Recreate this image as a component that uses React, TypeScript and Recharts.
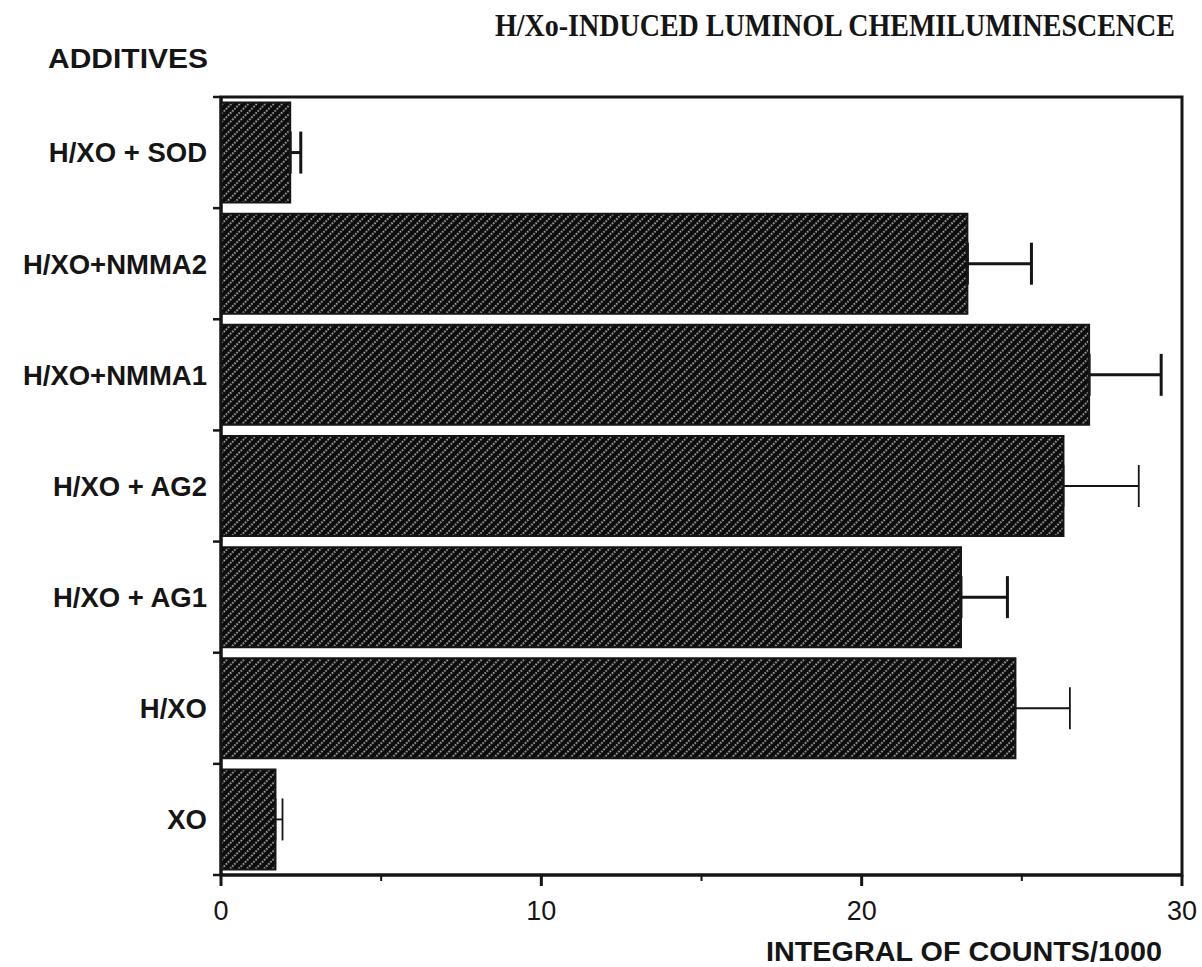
import { BarChart, Bar, XAxis, YAxis, ErrorBar, ReferenceArea } from 'recharts';

// categories top to bottom, as printed
const categories = ['H/XO + SOD', 'H/XO+NMMA2', 'H/XO+NMMA1', 'H/XO + AG2', 'H/XO + AG1', 'H/XO', 'XO'];
const means = [2.16, 23.3, 27.1, 26.3, 23.1, 24.8, 1.7];
const errors = [0.33, 2.0, 2.25, 2.35, 1.45, 1.7, 0.22];
// some error bars are printed with a heavier line than others
const heavyError = [true, true, true, false, true, false, false];
const xTicks = [0, 5, 10, 15, 20, 25, 30];

const data = categories.map((name, i) => ({
  name,
  value: means[i],
  errHeavy: heavyError[i] ? [0, errors[i]] : null,
  errLight: heavyError[i] ? null : [0, errors[i]],
}));

const INK = '#151515';
const SANS = '"Liberation Sans", Arial, Helvetica, sans-serif';
const LABEL_GAP = 14;

const XTick = ({ x, y, payload }: any) => {
  const major = payload.value % 10 === 0;
  return (
    <g>
      <line x1={x} x2={x} y1={y} y2={y + (major ? 11 : 6)} stroke={INK} strokeWidth={major ? 3 : 2} />
      {major && (
        <text x={x} y={y + 45} textAnchor="middle" fontFamily={SANS} fontSize={27} fill={INK}>
          {payload.value}
        </text>
      )}
    </g>
  );
};

// category label, plus small outward ticks on the band edges (payload.offset = half band)
const CatTick = ({ x, y, payload, index, visibleTicksCount }: any) => {
  const ax = x + LABEL_GAP;
  const half = payload.offset || 0;
  return (
    <g>
      <line x1={ax - 8} x2={ax} y1={y - half} y2={y - half} stroke={INK} strokeWidth={2.5} />
      {index === visibleTicksCount - 1 && (
        <line x1={ax - 8} x2={ax} y1={y + half} y2={y + half} stroke={INK} strokeWidth={2.5} />
      )}
      <text x={x} y={y} dy="0.36em" textAnchor="end" fontFamily={SANS} fontSize={27.5} fontWeight="bold" fill={INK}>
        {payload.value}
      </text>
    </g>
  );
};

export default function App() {
  return (
    <div style={{ position: 'relative', width: 1202, height: 967, background: '#fff' }}>
      <style>{'body{margin:0;overflow:hidden;background:#fff}'}</style>
      <svg width={0} height={0} style={{ position: 'absolute' }}>
        <defs>
          <pattern id="hatch" width={6} height={6} patternUnits="userSpaceOnUse" patternTransform="rotate(45)">
            <rect width={6} height={6} fill="#0c0c0c" />
            <line x1={3} y1={0} x2={3} y2={6} stroke="#fff" strokeWidth={1.3} strokeDasharray="1.5 1.5" />
          </pattern>
        </defs>
      </svg>
      <BarChart
        width={1202}
        height={967}
        data={data}
        layout="vertical"
        margin={{ top: 97, right: 20, bottom: 0, left: 0 }}
        barCategoryGap="5%"
      >
        <XAxis
          type="number"
          domain={[0, 30]}
          ticks={xTicks}
          height={92}
          axisLine={{ stroke: INK, strokeWidth: 3 }}
          tickLine={false}
          tickSize={0}
          tickMargin={0}
          tick={<XTick />}
          interval={0}
        />
        <YAxis
          type="category"
          dataKey="name"
          width={221}
          axisLine={{ stroke: INK, strokeWidth: 3 }}
          tickLine={false}
          tickSize={0}
          tickMargin={LABEL_GAP}
          interval={0}
          tick={<CatTick />}
        />
        <ReferenceArea x1={0} x2={30} fill="none" stroke={INK} strokeWidth={3} ifOverflow="visible" />
        <Bar dataKey="value" fill="url(#hatch)" stroke={INK} strokeWidth={2} isAnimationActive={false}>
          <ErrorBar dataKey="errHeavy" direction="x" width={21} stroke={INK} strokeWidth={3} />
          <ErrorBar dataKey="errLight" direction="x" width={21} stroke={INK} strokeWidth={1.8} />
        </Bar>
        {/* the printed title is a condensed bold serif */}
        <text transform="translate(495,36) scale(0.8,1)" x={0} y={0} fontFamily='"Liberation Serif", "Times New Roman", serif' fontWeight="bold" fontSize={31} fill={INK} textLength={850} lengthAdjust="spacingAndGlyphs">
          H/Xo-INDUCED LUMINOL CHEMILUMINESCENCE
        </text>
        <text x={48} y={68} fontFamily={SANS} fontWeight="bold" fontSize={28} fill={INK} textLength={160} lengthAdjust="spacingAndGlyphs">
          ADDITIVES
        </text>
        <text x={766} y={961} fontFamily={SANS} fontWeight="bold" fontSize={27} fill={INK} textLength={396} lengthAdjust="spacingAndGlyphs">
          INTEGRAL OF COUNTS/1000
        </text>
      </BarChart>
    </div>
  );
}
